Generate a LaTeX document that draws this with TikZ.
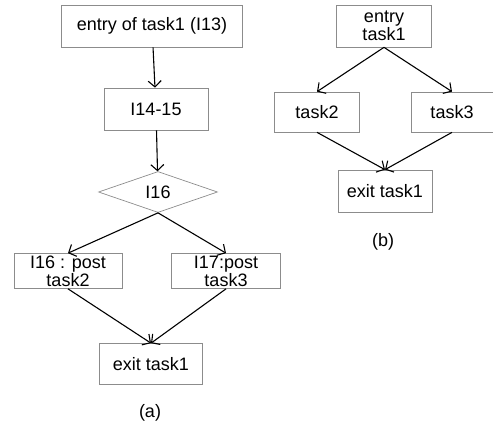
\documentclass[tikz,border=0pt]{standalone}
\usepackage{fontspec}
\setmainfont{Liberation Sans}
\usetikzlibrary{arrows.meta,shapes.geometric}
\definecolor{BoxClr}{rgb}{0.55,0.55,0.55}

\begin{document}
\begin{tikzpicture}[x=1bp,y=-1bp,
  font=\fontsize{18bp}{18bp}\selectfont,
  box/.style={draw=BoxClr,line width=0.7pt,inner sep=0pt,align=center},
  cond/.style={diamond,draw=BoxClr,line width=0.7pt,inner sep=0pt},
  flow/.style={line width=1.1pt,-{Straight Barb[length=6bp,width=13bp]}}]
\useasboundingbox (0,0) rectangle (493,433);

% (a)
\node[box,minimum width=181bp,minimum height=42bp] (entryA) at (152,26) {entry of task1 (I13)};
\node[box,minimum width=104bp,minimum height=42bp] (seq) at (156,109) {I14-15};
\node[cond,minimum width=119bp,minimum height=41bp] (test) at (158,192) {I16};
\node[box,minimum width=108bp,minimum height=35bp] (postA) at (68,271) {I16 : post\\task2};
\node[box,minimum width=109bp,minimum height=35bp] (postB) at (226,271) {I17:post\\task3};
\node[box,minimum width=103bp,minimum height=41bp] (exitA) at (151,364) {exit task1};
\node (capA) at (150,413) {(a)};

\draw[flow] (entryA) -- (seq);
\draw[flow] (seq) -- (test);
\draw[flow] (test.south) -- (postA.north);
\draw[flow] (test.south) -- (postB.north);
\draw[flow] (postA.south) -- (exitA.north);
\draw[flow] (postB.south) -- (exitA.north);

% (b)
\node[box,minimum width=95bp,minimum height=42bp] (entryB) at (384,26) {entry\\task1};
\node[box,minimum width=85bp,minimum height=40bp] (taskB) at (317,112) {task2};
\node[box,minimum width=82bp,minimum height=40bp] (taskC) at (452,112) {task3};
\node[box,minimum width=94bp,minimum height=42bp] (exitB) at (385,191) {exit task1};
\node (capB) at (383,242) {(b)};

\draw[flow] (entryB.south) -- (taskB.north);
\draw[flow] (entryB.south) -- (taskC.north);
\draw[flow] (taskB.south) -- (exitB.north);
\draw[flow] (taskC.south) -- (exitB.north);
\end{tikzpicture}
\end{document}
